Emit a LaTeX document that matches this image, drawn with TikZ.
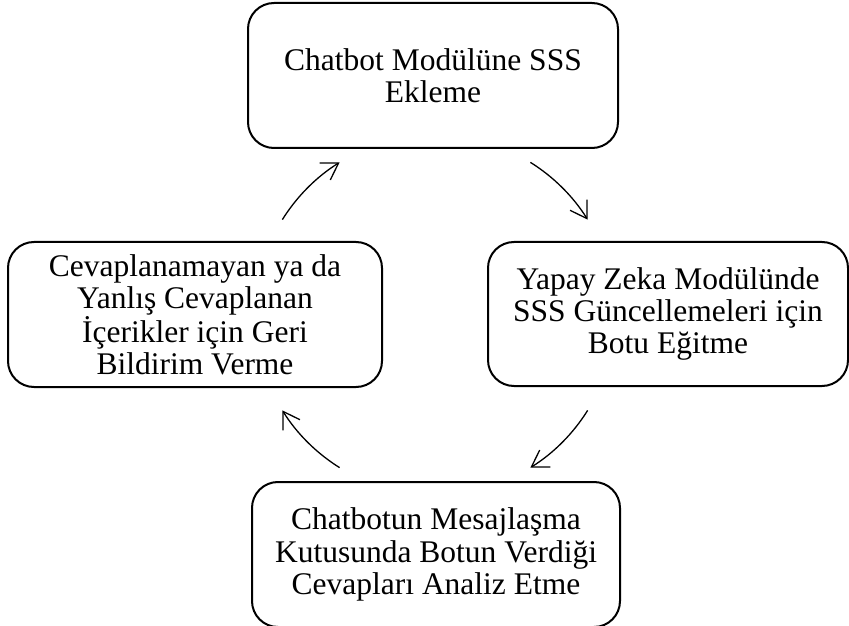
\documentclass[tikz,border=0pt]{standalone}
\usepackage{fontspec}
\setmainfont{Liberation Serif}
\usetikzlibrary{arrows.meta}
\begin{document}
\begin{tikzpicture}[x=1pt,y=1pt,
  stepbox/.style={draw, line width=2pt, rounded corners=26pt, align=center,
    inner sep=0pt, font=\fontsize{31.5}{32.3}\selectfont},
  cyclearrow/.style={line width=1.3pt, -{Straight Barb[length=16pt,width=20pt,line width=1.3pt]}}]
  \useasboundingbox (0,0) rectangle (849,625);
  % four steps of the cycle
  \node[stepbox, minimum width=370pt, minimum height=145pt] (ekle) at (433,549.5)
    {Chatbot Modülüne SSS\\Ekleme};
  \node[stepbox, minimum width=360pt, minimum height=144pt] (egit) at (668,311)
    {Yapay Zeka Modülünde\\SSS Güncellemeleri için\\Botu Eğitme};
  \node[stepbox, minimum width=368pt, minimum height=145pt] (analiz) at (436,70.5)
    {Chatbotun Mesajlaşma\\Kutusunda Botun Verdiği\\Cevapları Analiz Etme};
  \node[stepbox, minimum width=374pt, minimum height=145pt] (geri) at (195,310.5)
    {Cevaplanamayan ya da\\Yanlış Cevaplanan\\İçerikler için Geri\\Bildirim Verme};
  % arcs on a common circle linking the steps
  \coordinate (mid) at (435,310);
  \draw[cyclearrow] ([shift={(148:180)}]mid) arc[start angle=148, end angle=122, radius=180];
  \draw[cyclearrow] ([shift={(58:180)}]mid) arc[start angle=58, end angle=32, radius=180];
  \draw[cyclearrow] ([shift={(-32:180)}]mid) arc[start angle=-32, end angle=-58, radius=180];
  \draw[cyclearrow] ([shift={(-122:180)}]mid) arc[start angle=-122, end angle=-148, radius=180];
\end{tikzpicture}
\end{document}
